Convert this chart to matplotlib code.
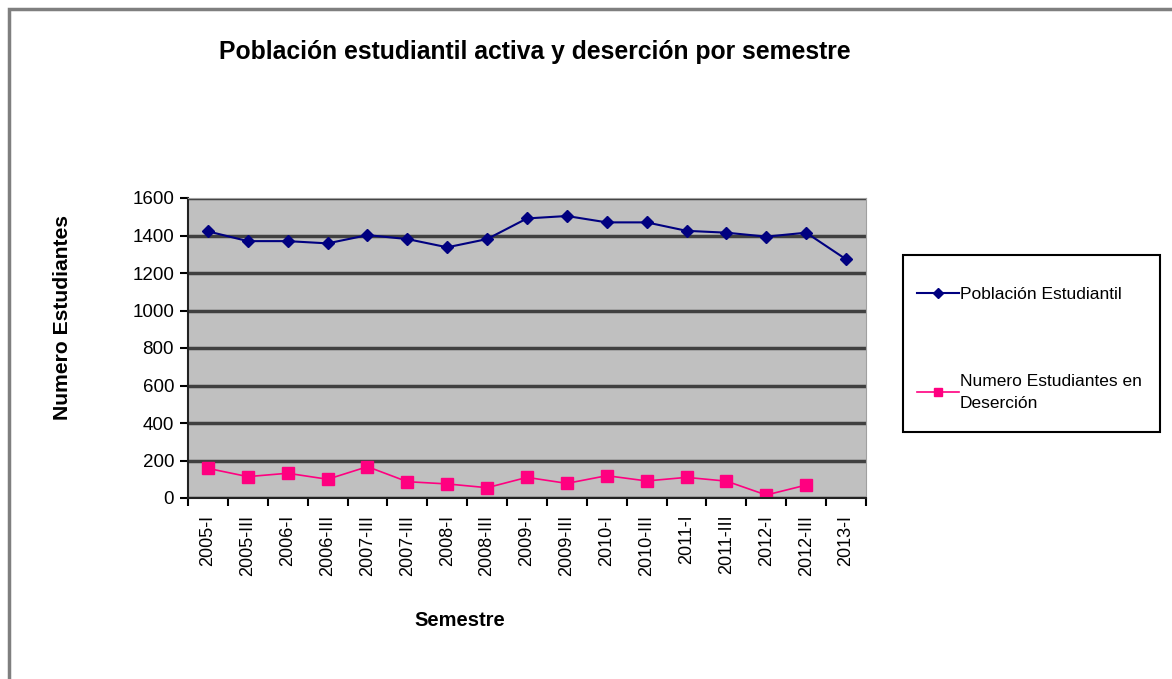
import numpy as np
import matplotlib.pyplot as plt
from matplotlib.patches import Rectangle

plt.rcParams['font.family'] = ['Liberation Sans', 'DejaVu Sans']

semestres = ['2005-I', '2005-III', '2006-I', '2006-III', '2007-III', '2007-III',
             '2008-I', '2008-III', '2009-I', '2009-III', '2010-I', '2010-III',
             '2011-I', '2011-III', '2012-I', '2012-III', '2013-I']
poblacion = [1422, 1370, 1370, 1358, 1402, 1381, 1337, 1381, 1491, 1504,
             1470, 1470, 1425, 1415, 1394, 1415, 1273]
desercion = [158, 114, 132, 100, 167, 87, 75, 55, 110, 78, 119, 91, 110, 90, 16, 69]

fig = plt.figure(figsize=(11.72, 6.79), dpi=100)
W, H = 1172, 679

# marco del grafico
fig.patches.append(Rectangle((9 / W, -0.1), 1.2, 1 - 9 / H + 0.1, transform=fig.transFigure,
                             fill=False, edgecolor='#7f7f7f', lw=2.5))
# marco de la leyenda
fig.patches.append(Rectangle((903 / W, 1 - 432 / H), 257 / W, 177 / H, transform=fig.transFigure,
                             fill=False, edgecolor='black', lw=1.5))

ax = fig.add_axes([188 / W, 1 - 498 / H, 678 / W, 300 / H])
ax.set_facecolor('#c0c0c0')
x = np.arange(len(semestres))
ax.plot(x, poblacion, color='#000080', marker='D', markersize=6.5, lw=1.5,
        label='Población Estudiantil')
ax.plot(np.arange(len(desercion)), desercion, color='#ff0080', marker='s', markersize=8.5,
        lw=1.2, label='Numero Estudiantes en\nDeserción')

ax.set_xlim(-0.5, len(semestres) - 0.5)
ax.set_ylim(0, 1600)
ax.set_yticks(range(0, 1601, 200))
ax.yaxis.grid(True, color='#404040', lw=2.5)
ax.set_axisbelow(True)
ax.set_xticks(x)
ax.set_xticklabels(semestres, rotation=90, fontsize=13)
ax.tick_params(axis='x', which='major', length=0, pad=12)
ax.set_xticks(np.arange(-0.5, len(semestres)), minor=True)
ax.tick_params(axis='x', which='minor', length=6, width=1.5, direction='out')
ax.tick_params(axis='y', length=6, width=1.5, labelsize=13.5, pad=4)
for s in ['top', 'right']:
    ax.spines[s].set_color('#a0a0a0')
for s in ['left', 'bottom']:
    ax.spines[s].set_color('#222222')
    ax.spines[s].set_linewidth(1.5)

fig.text(535 / W, 1 - 52 / H, 'Población estudiantil activa y deserción por semestre',
         ha='center', va='center', fontsize=17.8, fontweight='bold')
fig.text(62 / W, 1 - 318 / H, 'Numero Estudiantes', rotation=90, ha='center', va='center',
         fontsize=15.2, fontweight='bold')
fig.text(460 / W, 1 - 620 / H, 'Semestre', ha='center', va='center',
         fontsize=14.5, fontweight='bold')

leg = fig.legend(loc='upper left', bbox_to_anchor=(917 / W, 1 - 287 / H), fontsize=12.5,
                 frameon=False, borderpad=0, labelspacing=4.15, borderaxespad=0,
                 handlelength=2.4, handletextpad=0.05, markerscale=0.75)
for t in leg.get_texts():
    t.set_linespacing(1.55)

fig.savefig('out.png', dpi=100)
